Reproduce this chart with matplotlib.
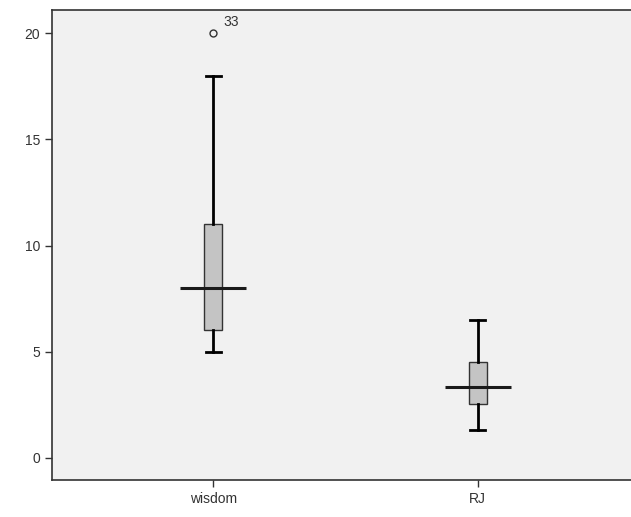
import matplotlib
matplotlib.use("Agg")
import matplotlib.pyplot as plt

plt.rcParams["font.family"] = ["Liberation Sans", "DejaVu Sans"]

categories = ["wisdom", "RJ"]
whislo = [5.0, 1.3]
q1 = [6.0, 2.55]
medians = [8.0, 3.33]
q3 = [11.0, 4.5]
whishi = [18.0, 6.5]
outliers = [[20.0], []]
outlier_labels = [["33"], []]
yticks = [0, 5, 10, 15, 20]

fig = plt.figure(figsize=(6.31, 5.17), dpi=100)
ax = fig.add_axes([0.0824, 0.0716, 0.9176, 0.9091])
ax.set_facecolor("#f1f1f1")

positions = [1, 2]
stats = []
for i, c in enumerate(categories):
    stats.append(dict(label=c, whislo=whislo[i], q1=q1[i], med=medians[i],
                      q3=q3[i], whishi=whishi[i], fliers=outliers[i]))

ax.bxp(stats, positions=positions, widths=0.068, capwidths=0.058,
       patch_artist=True, showfliers=True,
       boxprops=dict(facecolor="#c4c4c4", edgecolor="#333333", linewidth=1.0),
       whiskerprops=dict(color="black", linewidth=2.0),
       capprops=dict(color="black", linewidth=2.0),
       medianprops=dict(linewidth=0),
       flierprops=dict(marker="o", markersize=5, markerfacecolor="none",
                       markeredgecolor="#333333", markeredgewidth=1.0))

ax.hlines(medians, [p - 0.125 for p in positions], [p + 0.125 for p in positions],
          colors="#1a1a1a", linewidth=2.2, zorder=5)

for i, p in enumerate(positions):
    for v, lab in zip(outliers[i], outlier_labels[i]):
        ax.annotate(lab, (p, v), xytext=(7, 5), textcoords="offset points",
                    fontsize=10, color="#333333")

ax.set_xlim(0.39, 2.58)
ax.set_ylim(-1.05, 21.1)
ax.set_yticks(yticks)
ax.set_xticks(positions)
ax.set_xticklabels(categories)
ax.tick_params(axis="both", direction="out", length=5, width=1.0, colors="#333333",
               labelsize=10, labelcolor="#333333")
for s in ["left", "bottom", "top"]:
    ax.spines[s].set_color("#333333")
    ax.spines[s].set_linewidth(1.2)
ax.spines["right"].set_visible(False)

fig.savefig("out.png", dpi=100, facecolor="white")
